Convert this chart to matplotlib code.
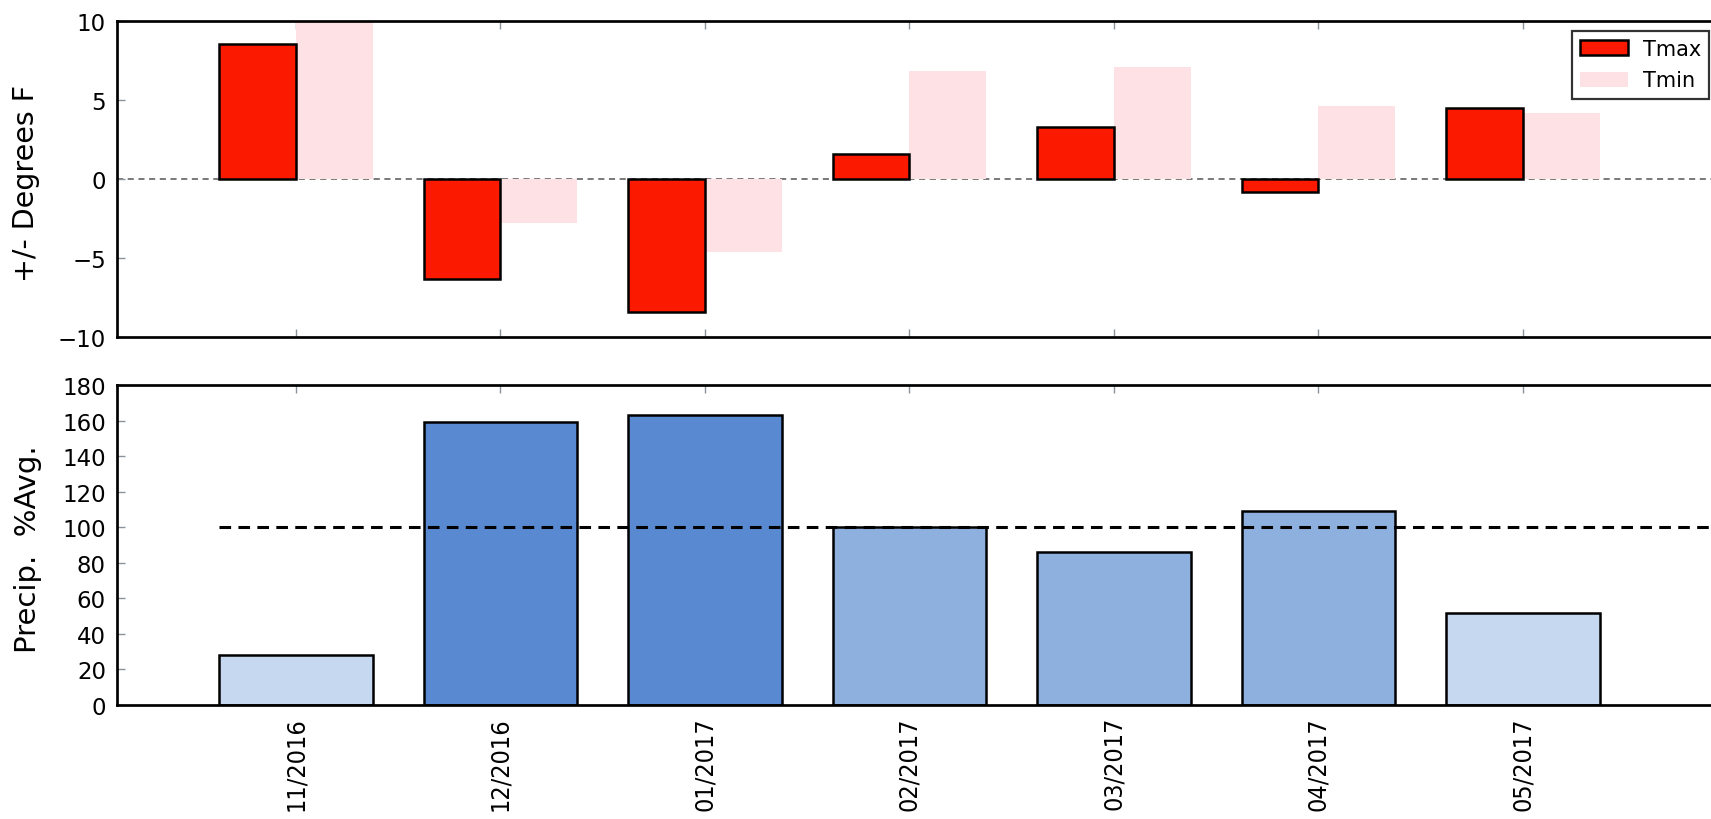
import matplotlib
matplotlib.use("Agg")
import matplotlib.pyplot as plt
from matplotlib import font_manager
import numpy as np

# Monthly departures and precipitation
months = ["11/2016", "12/2016", "01/2017", "02/2017", "03/2017", "04/2017", "05/2017"]
tmax_dep = [8.5, -6.3, -8.4, 1.6, 3.3, -0.85, 4.5]
tmin_dep = [9.9, -2.8, -4.6, 6.8, 7.1, 4.6, 4.2]
precip_pct = [28, 159, 163, 100, 86, 109, 51.5]

y_ticks_temp = [-10, -5, 0, 5, 10]
y_ticks_precip = [0, 20, 40, 60, 80, 100, 120, 140, 160, 180]

TMAX_COLOR = "#fb1a00"
TMIN_COLOR = "#fde1e4"
TICK_COLOR = "#8a929c"


def precip_color(v):
    if v < 70:
        return "#c6d7f0"
    if v < 130:
        return "#8eb0de"
    return "#5889d1"


installed = {f.name for f in font_manager.fontManager.ttflist}
if "Liberation Sans Narrow" in installed:
    date_font = dict(family="Liberation Sans Narrow", size=22)
else:
    date_font = dict(family="DejaVu Sans", stretch="condensed", size=18)

plt.rcParams["font.family"] = ["DejaVu Sans"]

W, H = 1711, 820
fig = plt.figure(figsize=(W / 100, H / 100), dpi=100)

x = np.arange(len(months))
spacing_px = 204.5
x_left_px = 117
xlim = (-0.875, 7.0)
ax_w_px = (xlim[1] - xlim[0]) * spacing_px


def make_axes(top_px, bottom_px):
    return fig.add_axes([x_left_px / W, 1 - bottom_px / H, ax_w_px / W,
                         (bottom_px - top_px) / H])


ax1 = make_axes(21.7, 338.3)
ax2 = make_axes(386, 706)

bw = 0.375
for ax in (ax1, ax2):
    ax.set_xlim(*xlim)
    ax.set_xticks(x)
    for side in ("top", "bottom", "left"):
        ax.spines[side].set_linewidth(1.95)
        ax.spines[side].set_color("black")
    ax.spines["right"].set_visible(False)
    ax.tick_params(axis="both", direction="in", length=6, width=1.0,
                   colors=TICK_COLOR, labelcolor="black", labelsize=16.5, pad=8)
    ax.tick_params(axis="x", top=True, bottom=True)
    ax.tick_params(axis="y", left=True, right=False)

# Temperature departures
ax1.bar(x - bw / 2, tmax_dep, width=bw, color=TMAX_COLOR, edgecolor="black",
        linewidth=1.8, label="Tmax", zorder=3)
ax1.bar(x + bw / 2, tmin_dep, width=bw, color=TMIN_COLOR, edgecolor="none",
        linewidth=0, label="Tmin", zorder=2)
ax1.axhline(0, color="#555555", linewidth=1.1, dashes=(4, 3), zorder=1)
ax1.set_ylim(-10, 10)
ax1.set_yticks(y_ticks_temp)
ax1.tick_params(axis="x", labelbottom=False)
ax1.set_ylabel("+/- Degrees F", fontsize=20.5)
ax1.yaxis.set_label_coords((40 - x_left_px) / ax_w_px, 0.49)

leg = ax1.legend(loc="upper left", bbox_to_anchor=(1572 / W, 1 - 31.7 / H),
                 bbox_transform=fig.transFigure, borderaxespad=0,
                 fontsize=15, frameon=True, fancybox=False,
                 handlelength=2.3, handleheight=0.72, borderpad=0.4,
                 labelspacing=0.55, handletextpad=0.7)
leg.get_frame().set_edgecolor("black")
leg.get_frame().set_linewidth(1.6)

# Precipitation percent of average
ax2.bar(x, precip_pct, width=2 * bw, color=[precip_color(v) for v in precip_pct],
        edgecolor="black", linewidth=1.8, zorder=2)
ax2.plot([x[0] - bw, x[-1] + 2.6 * bw], [100, 100], color="black",
         linewidth=2.2, dashes=(3.8, 2.4), zorder=3)
ax2.set_ylim(0, 180)
ax2.set_yticks(y_ticks_precip)
ax2.set_xticklabels(months, rotation=90, **date_font)
ax2.set_ylabel("Precip.  %Avg.", fontsize=21)
ax2.yaxis.set_label_coords((42 - x_left_px) / ax_w_px, 0.49)

fig.savefig("out.png", dpi=100)
